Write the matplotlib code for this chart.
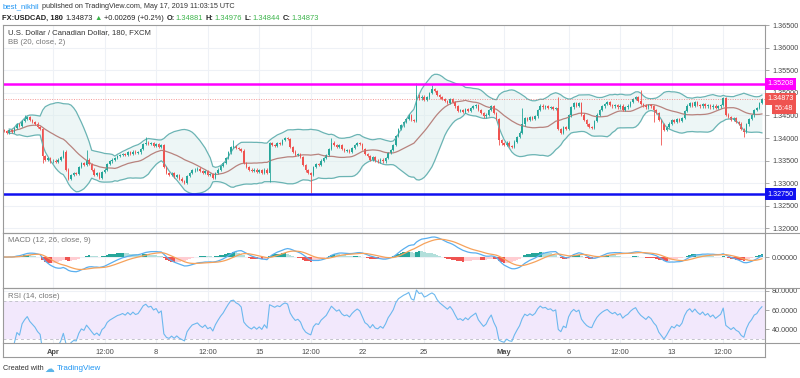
import matplotlib
matplotlib.use('Agg')
import matplotlib.pyplot as plt
import matplotlib.transforms as mtransforms
from matplotlib.lines import Line2D
import numpy as np
import pandas as pd

plt.rcParams['font.family'] = ['Liberation Sans', 'DejaVu Sans']

# ======================================================
# USDCAD 180 min closes (Mar 28 -> May 17 2019)
closes = [
    1.3415, 1.3412, 1.3418, 1.3414,
    1.3422, 1.3430, 1.3426, 1.3437, 1.3442,
    1.3446, 1.3440, 1.3436, 1.3432,
    1.3425, 1.3420, 1.3360,
    1.3352, 1.3356, 1.3348, 1.3350,
    1.3346, 1.3352, 1.3358, 1.3370,
    1.3330, 1.3310,
    1.3318, 1.3322, 1.3320, 1.3335, 1.3345,
    1.3340, 1.3352, 1.3342,
    1.3330, 1.3318, 1.3322, 1.3312,
    1.3325, 1.3330, 1.3342, 1.3348,
    1.3352, 1.3356, 1.3360, 1.3362,
    1.3365, 1.3362, 1.3368, 1.3364, 1.3370, 1.3366, 1.3368,
    1.3376, 1.3386, 1.3390,
    1.3386, 1.3388, 1.3383, 1.3386, 1.3380, 1.3384,
    1.3335, 1.3322,
    1.3318, 1.3322, 1.3314, 1.3318, 1.3310, 1.3305,
    1.3300,
    1.3315, 1.3322, 1.3328, 1.3330,
    1.3332, 1.3326,
    1.3322, 1.3326, 1.3318, 1.3320,
    1.3312,
    1.3322, 1.3330, 1.3338, 1.3345,
    1.3356, 1.3368, 1.3380,
    1.3382, 1.3378, 1.3376, 1.3372,
    1.3344,
    1.3336, 1.3330, 1.3326, 1.3330, 1.3324, 1.3328, 1.3322, 1.3330, 1.3322,
    1.3388,
    1.3385, 1.3382, 1.3388, 1.3386,
    1.3395, 1.3400, 1.3398,
    1.3380, 1.3370,
    1.3362, 1.3365, 1.3358,
    1.3340, 1.3328, 1.3322,
    1.3318,
    1.3335, 1.3342, 1.3340, 1.3350, 1.3356, 1.3362,
    1.3375, 1.3390,
    1.3385, 1.3380, 1.3384, 1.3376, 1.3372, 1.3374, 1.3370,
    1.3378, 1.3384, 1.3389, 1.3386,
    1.3376, 1.3364,
    1.3360, 1.3352, 1.3358, 1.3350, 1.3348,
    1.3352, 1.3348, 1.3355,
    1.3366, 1.3374, 1.3384,
    1.3405, 1.3420,
    1.3428, 1.3436, 1.3442, 1.3450,
    1.3440,
    1.3438, 1.3495,
    1.3488, 1.3492, 1.3484, 1.3490,
    1.3500, 1.3508, 1.3505,
    1.3496, 1.3490, 1.3486, 1.3482,
    1.3478, 1.3486, 1.3480,
    1.3470, 1.3460,
    1.3462, 1.3458, 1.3464, 1.3460, 1.3466,
    1.3470, 1.3474,
    1.3462, 1.3455, 1.3448, 1.3452,
    1.3462, 1.3470,
    1.3455, 1.3442,
    1.3395, 1.3388,
    1.3384, 1.3390, 1.3382, 1.3380,
    1.3392, 1.3402, 1.3412,
    1.3430,
    1.3444, 1.3440, 1.3446, 1.3442, 1.3448,
    1.3462, 1.3472, 1.3468,
    1.3470, 1.3466, 1.3468, 1.3464, 1.3467,
    1.3420, 1.3412,
    1.3425, 1.3420,
    1.3450, 1.3468, 1.3478,
    1.3472, 1.3478,
    1.3452, 1.3440, 1.3430, 1.3424,
    1.3422,
    1.3438, 1.3452, 1.3462, 1.3470,
    1.3476, 1.3480, 1.3474,
    1.3470, 1.3474, 1.3468, 1.3472, 1.3462,
    1.3468, 1.3472,
    1.3480, 1.3486, 1.3490, 1.3482,
    1.3476, 1.3472, 1.3468,
    1.3474, 1.3470,
    1.3462, 1.3456,
    1.3440, 1.3430,
    1.3418, 1.3424, 1.3432,
    1.3440, 1.3436, 1.3442, 1.3438, 1.3444,
    1.3460, 1.3472,
    1.3478, 1.3472, 1.3480, 1.3474, 1.3470, 1.3476,
    1.3470, 1.3474, 1.3468, 1.3472, 1.3466, 1.3470, 1.3474,
    1.3488, 1.3452,
    1.3446, 1.3440, 1.3444, 1.3436, 1.3432,
    1.3420, 1.3414,
    1.3430, 1.3442, 1.3450,
    1.3462, 1.3466,
    1.3478, 1.34873,
]
first_open = 1.3418
# notable wick extremes (bar index -> price)
high_wicks = {8: 1.3451, 32: 1.3373, 55: 1.3402, 89: 1.3396, 103: 1.3392, 109: 1.3403,
              127: 1.3400, 160: 1.3522, 166: 1.3518, 201: 1.3467, 215: 1.3491, 247: 1.3507}
low_wicks = {15: 1.3344, 103: 1.3302, 119: 1.3278, 192: 1.3384, 252: 1.3436, 255: 1.3384,
             287: 1.3402}

resistance = 1.35208
support = 1.32750
last_price = 1.34873

price_ticks = [1.320, 1.325, 1.330, 1.335, 1.340, 1.345, 1.350, 1.355, 1.360, 1.365]
time_ticks = [19, 39, 59, 79, 99, 119, 139, 163, 194, 219, 239, 259, 279]
time_labels = ['Apr', '12:00', '8', '12:00', '15', '12:00', '22', '25', 'May', '6', '12:00', '13', '12:00']
rsi_ticks = [40, 60, 80]

# ======================================================
W, H = 800, 378
def rect(x0, y0, x1, y1):
    return [x0 / W, 1 - y1 / H, (x1 - x0) / W, (y1 - y0) / H]
def fx(px):
    return px / W
def fy(py):
    return 1 - py / H

GREEN = '#26A69A'
RED = '#EF5350'
GRID = '#EEF1F6'
BORDER = '#9A9A9A'
TXT = '#4A4A4A'
FS = 5.2

fig = plt.figure(figsize=(8, 3.78), dpi=100)
ax = fig.add_axes(rect(3, 25, 765, 233))
ax_m = fig.add_axes(rect(3, 233, 765, 288), sharex=ax)
ax_r = fig.add_axes(rect(3, 288, 765, 343), sharex=ax)

c = np.array(closes)
x = np.arange(len(c))
o = np.concatenate([[first_open], c[:-1]])
hi = np.maximum(o, c) + 0.00025
lo = np.minimum(o, c) - 0.00025
for k, v in high_wicks.items():
    hi[k] = v
for k, v in low_wicks.items():
    lo[k] = v
cols = np.where(c >= o, GREEN, RED)

# Bollinger bands (20, close, 2)
s = pd.Series(c)
basis = s.rolling(20, min_periods=3).mean()
dev = s.rolling(20, min_periods=3).std(ddof=0)
upper = basis + 2 * dev
lower = basis - 2 * dev

ax.fill_between(x, lower, upper, color='#D9EDEC', alpha=0.45, lw=0)
ax.plot(x, upper, color='#6BB4B4', lw=0.9)
ax.plot(x, lower, color='#6BB4B4', lw=0.9)
ax.plot(x, basis, color='#B8837E', lw=0.9)

ax.vlines(x, lo, hi, colors=cols, lw=0.6)
ax.bar(x, np.maximum(np.abs(c - o), 0.00005), bottom=np.minimum(o, c), width=0.62,
       color=cols, lw=0)

ax.axhline(resistance, color='#FF00FF', lw=1.8)
ax.axhline(support, color='#1010F0', lw=1.8)
ax.axhline(last_price, color=RED, lw=0.7, ls=(0, (1, 1.5)), alpha=0.6)

ax.set_ylim(1.3189, 1.3651)
ax.set_xlim(-0.4, 295.2)
ax.set_yticks(price_ticks)
ax.set_yticklabels(['%.5f' % p for p in price_ticks])

# MACD (12, 26, close, 9)
ema12 = s.ewm(span=12, adjust=False).mean()
ema26 = s.ewm(span=26, adjust=False).mean()
macd = ema12 - ema26
signal = macd.ewm(span=9, adjust=False).mean()
hist = (macd - signal).values
prev = np.concatenate([[0], hist[:-1]])
hcols = np.where(hist >= 0, np.where(hist > prev, GREEN, '#B2DFDB'),
                 np.where(hist < prev, RED, '#FFCDD2'))
ax_m.bar(x, hist, width=1.0, color=hcols, lw=0)
ax_m.plot(x, macd, color='#5AAFEF', lw=0.9)
ax_m.plot(x, signal, color='#F6A25B', lw=0.9)
top = max(macd.max(), signal.max()) * 1.2
ax_m.set_ylim(-top * 31 / 24, top)
ax_m.set_yticks([0])
ax_m.set_yticklabels(['0.00000'])

# RSI (14, close)
delta = s.diff()
gain = delta.clip(lower=0).ewm(alpha=1 / 14, adjust=False).mean()
loss = (-delta.clip(upper=0)).ewm(alpha=1 / 14, adjust=False).mean()
rsi = 100 - 100 / (1 + gain / loss)
ax_r.axhspan(30, 70, color='#F2E8FC', lw=0)
ax_r.axhline(70, color='#C4C4CC', lw=0.7, ls=(0, (3, 3)))
ax_r.axhline(30, color='#C4C4CC', lw=0.7, ls=(0, (3, 3)))
ax_r.plot(x, rsi, color='#6CB8EE', lw=0.8)
ax_r.set_ylim(26, 83)
ax_r.set_yticks(rsi_ticks)
ax_r.set_yticklabels(['%.4f' % v for v in rsi_ticks])

for a in (ax, ax_m, ax_r):
    a.set_facecolor('none')
    a.yaxis.tick_right()
    a.tick_params(axis='y', length=3, width=0.6, color=BORDER, labelsize=FS, labelcolor=TXT, pad=2)
    a.tick_params(axis='x', length=0)
    a.set_xticks(time_ticks)
    a.grid(True, color=GRID, lw=0.8)
    a.set_axisbelow(True)
    for sp in a.spines.values():
        sp.set_color(BORDER)
        sp.set_linewidth(0.8)
for a in (ax, ax_m):
    plt.setp(a.get_xticklabels(), visible=False)
ax_r.set_xticklabels(time_labels)
ax_r.tick_params(axis='x', labelsize=5.4, labelcolor=TXT, pad=4)
for lab in ax_r.get_xticklabels():
    if lab.get_text() in ('Apr', 'May'):
        lab.set_fontweight('bold')

# price labels on the right axis
tr = mtransforms.blended_transform_factory(ax.transAxes, ax.transData)
def price_tag(y, s, fc):
    ax.text(1.003, y, s, transform=tr, fontsize=FS, color='white', va='center', ha='left',
            bbox=dict(boxstyle='square,pad=0.35', fc=fc, ec='none'), clip_on=False, zorder=5)
price_tag(resistance, '%.5f' % resistance, '#FF00FF')
price_tag(support, '%.5f' % support, '#1010F0')
price_tag(last_price, '%.5f' % last_price, RED)
ax.text(1.013, last_price - 0.0021, '56:48', transform=tr, fontsize=FS, color='white',
        va='center', ha='left', bbox=dict(boxstyle='square,pad=0.35', fc=RED, ec='none'),
        clip_on=False, zorder=5)

# pane titles
fig.text(fx(8), fy(33), 'U.S. Dollar / Canadian Dollar, 180, FXCM', fontsize=5.6, color='#333333',
         va='center')
fig.text(fx(8), fy(43), 'BB (20, close, 2)', fontsize=5.6, color='#777777', va='center')
fig.text(fx(8), fy(241), 'MACD (12, 26, close, 9)', fontsize=5.6, color='#777777', va='center')
fig.text(fx(8), fy(297), 'RSI (14, close)', fontsize=5.6, color='#777777', va='center')

# header
fig.text(fx(3), fy(7), 'best_nikhil', fontsize=5.6, color='#2196F3', va='center')
fig.text(fx(42), fy(7), 'published on TradingView.com, May 17, 2019 11:03:15 UTC', fontsize=5.2,
         color='#333333', va='center')
hdr = [('FX:USDCAD, 180', '#222222', 'bold', 3), ('1.34873', '#222222', 'normal', 1.5),
       ('\u25B2', '#3BB44A', 'normal', 1.5), ('+0.00269 (+0.2%)', '#222222', 'normal', 3),
       ('O:', '#222222', 'bold', 0.5), ('1.34881', '#3BB44A', 'normal', 3),
       ('H:', '#222222', 'bold', 0.5), ('1.34976', '#3BB44A', 'normal', 3),
       ('L:', '#222222', 'bold', 0.5), ('1.34844', '#3BB44A', 'normal', 3),
       ('C:', '#222222', 'bold', 0.5), ('1.34873', '#3BB44A', 'normal', 3)]
renderer = fig.canvas.get_renderer()
px = 2
for txt, col, wt, gap in hdr:
    t = fig.text(fx(px), fy(18), txt, fontsize=5.4, color=col, fontweight=wt, va='center')
    px = t.get_window_extent(renderer).x1 + gap

# footer
fig.text(fx(3), fy(369), 'Created with', fontsize=5.2, color='#333333', va='center')
fig.text(fx(44), fy(369), '\u2601', fontsize=7, color='#5DB5E8', va='center',
         family='DejaVu Sans')
fig.text(fx(57), fy(369), 'TradingView', fontsize=5.8, color='#2196F3', va='center')

# frame lines around time axis / price scale
for (xa, ya, xb, yb) in [(3, 357, 765, 357), (765, 343, 765, 357), (3, 343, 3, 357),
                         (765, 233, 800, 233), (765, 288, 800, 288), (765, 343, 800, 343)]:
    fig.add_artist(Line2D([fx(xa), fx(xb)], [fy(ya), fy(yb)], color=BORDER, lw=0.8))

fig.savefig('out.png', dpi=100)
